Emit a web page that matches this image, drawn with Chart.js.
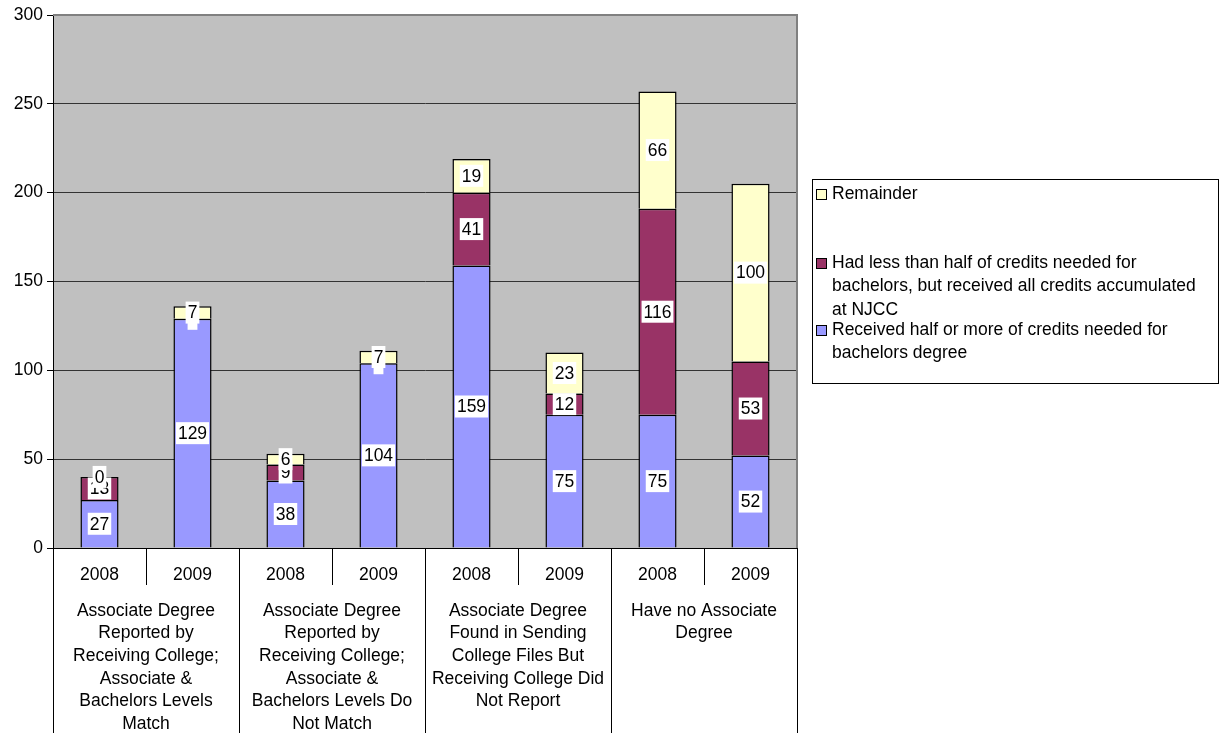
<!DOCTYPE html>
<html>
<head>
<meta charset="utf-8">
<script src="https://cdn.jsdelivr.net/npm/chart.js@4.4.1/dist/chart.umd.min.js"></script>
<style>
  html, body { margin: 0; padding: 0; background: #fff; }
  canvas { display: block; }
</style>
</head>
<body>
<canvas id="c" width="1222" height="733"></canvas>
<script>
// ─── data ───
const years = ['2008', '2009', '2008', '2009', '2008', '2009', '2008', '2009'];
const groups = [
  ['Associate Degree', 'Reported by', 'Receiving College;', 'Associate &', 'Bachelors Levels', 'Match'],
  ['Associate Degree', 'Reported by', 'Receiving College;', 'Associate &', 'Bachelors Levels Do', 'Not Match'],
  ['Associate Degree', 'Found in Sending', 'College Files But', 'Receiving College Did', 'Not Report'],
  ['Have no Associate', 'Degree'],
];
const receivedHalf = [27, 129, 38, 104, 159, 75, 75, 52];
const lessThanHalf = [13, 0, 9, 0, 41, 12, 116, 53];
const remainder = [0, 7, 6, 7, 19, 23, 66, 100];
const yTicks = [0, 50, 100, 150, 200, 250, 300];

const FONT = '"Liberation Sans", Arial, sans-serif';
const FS = 17.5;

/* grey plot background + right/top frame */
const plotBg = {
  id: 'plotBg',
  beforeDraw(chart) {
    const { ctx, chartArea: a } = chart;
    ctx.save();
    ctx.fillStyle = '#c0c0c0';
    ctx.fillRect(a.left, a.top, a.right - a.left, a.bottom - a.top);
    ctx.restore();
  },
  afterDraw(chart) {
    const { ctx, chartArea: a } = chart;
    ctx.save();
    ctx.strokeStyle = '#808080';
    ctx.lineWidth = 2;
    ctx.beginPath();
    ctx.moveTo(a.left, a.top); ctx.lineTo(a.right, a.top); ctx.lineTo(a.right, a.bottom);
    ctx.stroke();
    ctx.restore();
  },
};

/* value labels in white boxes */
const valueLabels = {
  id: 'valueLabels',
  afterDatasetsDraw(chart) {
    const { ctx } = chart;
    ctx.save();
    ctx.font = FS + 'px ' + FONT;
    ctx.textAlign = 'center';
    ctx.textBaseline = 'middle';
    chart.data.datasets.forEach((ds, di) => {
      chart.getDatasetMeta(di).data.forEach((bar, i) => {
        const v = ds.data[i];
        const txt = (v === 0 && di === 1) ? '-' : String(v);
        const cy = (bar.y + bar.base) / 2;
        const w = ctx.measureText(txt).width + 4;
        ctx.fillStyle = '#fff';
        ctx.fillRect(bar.x - w / 2, cy - 11, w, 22);
        ctx.fillStyle = '#000';
        ctx.fillText(txt, bar.x, cy + 1);
      });
    });
    ctx.restore();
  },
};

/* two-level category axis */
const multiAxis = {
  id: 'multiAxis',
  afterDraw(chart) {
    const { ctx, chartArea: a } = chart;
    const n = years.length;
    const slot = (a.right - a.left) / n;
    const H = chart.height;
    ctx.save();
    ctx.strokeStyle = '#000';
    ctx.lineWidth = 1;
    ctx.beginPath();
    ctx.moveTo(a.left, a.bottom + 0.5); ctx.lineTo(a.right, a.bottom + 0.5);
    for (let i = 0; i <= n; i++) {
      const x = Math.round(a.left + i * slot) + 0.5;
      ctx.moveTo(x, a.bottom);
      ctx.lineTo(x, i % 2 === 0 ? H : a.bottom + 37);
    }
    ctx.stroke();
    ctx.font = FS + 'px ' + FONT;
    ctx.fillStyle = '#000';
    ctx.textAlign = 'center';
    ctx.textBaseline = 'middle';
    years.forEach((y, i) => ctx.fillText(y, a.left + (i + 0.5) * slot, a.bottom + 27));
    groups.forEach((lines, g) => {
      const cx = a.left + (g * 2 + 1) * slot;
      lines.forEach((l, k) => ctx.fillText(l, cx, a.bottom + 63 + k * 22.6));
    });
    ctx.restore();
  },
};

/* boxed legend on the right */
const boxLegend = {
  id: 'boxLegend',
  afterDraw(chart) {
    const { ctx } = chart;
    const items = [
      { ds: 2, y: 194 },
      { ds: 1, y: 263 },
      { ds: 0, y: 330 },
    ];
    ctx.save();
    ctx.strokeStyle = '#000';
    ctx.lineWidth = 1;
    ctx.strokeRect(812.5, 179.5, 406, 204);
    ctx.font = FS + 'px ' + FONT;
    ctx.textBaseline = 'middle';
    ctx.textAlign = 'left';
    items.forEach(it => {
      const ds = chart.data.datasets[it.ds];
      ctx.fillStyle = ds.backgroundColor;
      ctx.fillRect(816, it.y - 5, 11, 11);
      ctx.strokeRect(816.5, it.y - 4.5, 10, 10);
      ctx.fillStyle = '#000';
      // wrap text to box width
      const words = ds.label.split(' ');
      const lines = [];
      let cur = '';
      words.forEach(w => {
        const t = cur ? cur + ' ' + w : w;
        if (ctx.measureText(t).width > 375 && cur) { lines.push(cur); cur = w; } else cur = t;
      });
      lines.push(cur);
      lines.forEach((l, k) => ctx.fillText(l, 832, it.y + k * 23.5));
    });
    ctx.restore();
  },
};

new Chart(document.getElementById('c').getContext('2d'), {
  type: 'bar',
  data: {
    labels: years,
    datasets: [
      { label: 'Received half or more of credits needed for bachelors degree', data: receivedHalf,
        backgroundColor: '#9999ff', borderColor: '#000', borderWidth: 1.5 },
      { label: 'Had less than half of credits needed for bachelors, but received all credits accumulated at NJCC', data: lessThanHalf,
        backgroundColor: '#993366', borderColor: '#000', borderWidth: 1.5 },
      { label: 'Remainder', data: remainder,
        backgroundColor: '#ffffcc', borderColor: '#000', borderWidth: 1.5 },
    ],
  },
  options: {
    responsive: false,
    animation: false,
    categoryPercentage: 1,
    barPercentage: 0.41,
    layout: { padding: { top: 15, right: 425, left: 0, bottom: 0 } },
    plugins: { legend: { display: false }, tooltip: { enabled: false } },
    scales: {
      x: {
        stacked: true,
        ticks: { display: false },
        grid: { display: false },
        border: { display: false },
        afterFit: s => { s.height = 185; },
      },
      y: {
        stacked: true, min: 0, max: 300,
        afterBuildTicks: s => { s.ticks = yTicks.map(v => ({ value: v })); },
        ticks: { color: '#000', font: { family: FONT, size: FS }, padding: 4 },
        grid: {
          color: c => (c.tick && c.tick.value === 300) ? 'rgba(0,0,0,0)' : '#333',
          tickColor: '#000', tickLength: 6, lineWidth: 1,
        },
        border: { color: '#000', width: 1 },
        afterFit: s => { s.width = 53; },
      },
    },
  },
  plugins: [plotBg, valueLabels, multiAxis, boxLegend],
});
</script>
</body>
</html>
